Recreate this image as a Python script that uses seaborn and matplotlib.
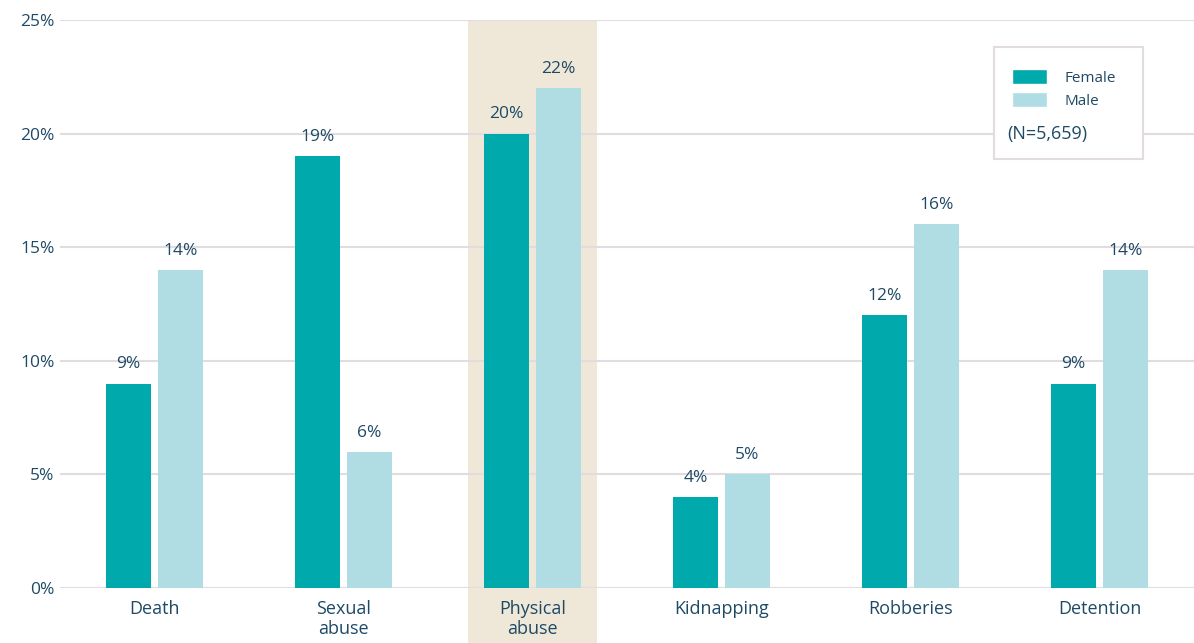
import matplotlib
matplotlib.use("Agg")
import matplotlib.pyplot as plt
import seaborn as sns
import pandas as pd
from matplotlib.patches import Rectangle, Patch

categories = ["Death", "Sexual\nabuse", "Physical\nabuse", "Kidnapping", "Robberies", "Detention"]
female = [9, 19, 20, 4, 12, 9]
male = [14, 6, 22, 5, 16, 14]
series_names = ["Female", "Male"]
yticks = [0, 5, 10, 15, 20, 25]
highlight = "Physical\nabuse"
note = "(N=5,659)"

FEMALE_C = "#00A9AC"
MALE_C = "#B0DDE3"
BAND_C = "#EFE8D8"
TEXT_C = "#1E4A66"
GRID_C = "#E2DCE0"

sns.set_theme(style="white")
plt.rcParams['font.family'] = ['Open Sans', 'DejaVu Sans']

df = pd.DataFrame({
    "cat": categories * 2,
    "val": female + male,
    "sex": [series_names[0]] * len(categories) + [series_names[1]] * len(categories),
})

fig = plt.figure(figsize=(11.94, 6.43), dpi=100)
ax = fig.add_axes([60 / 1194, 55 / 643, 1134 / 1194, 568 / 643])

hi = categories.index(highlight)
ax.add_patch(Rectangle((hi - 0.34, -5), 0.68, 30, facecolor=BAND_C, edgecolor="none",
                       zorder=0, clip_on=False))

sns.barplot(data=df, x="cat", y="val", hue="sex", order=categories,
            hue_order=series_names, palette=[FEMALE_C, MALE_C], width=0.55, gap=0.116,
            ax=ax, legend=False, zorder=3, saturation=1, linewidth=0, edgecolor="none")

for cont in ax.containers:
    for bar in cont:
        h = bar.get_height()
        ax.annotate(f"{h:.0f}%", (bar.get_x() + bar.get_width() / 2, h),
                    xytext=(0, 8), textcoords="offset points", ha="center", va="bottom",
                    fontsize=12.5, color=TEXT_C, zorder=4)

ax.set_xlim(-0.5, 5.5)
ax.set_ylim(0, 25)
ax.set_yticks(yticks)
ax.set_yticklabels([f"{t}%" for t in yticks])
ax.yaxis.grid(True, color=GRID_C, linewidth=1.5, zorder=1)
ax.set_axisbelow(True)
for s in ax.spines.values():
    s.set_visible(False)
ax.tick_params(axis="both", length=0, labelcolor=TEXT_C)
ax.tick_params(axis="y", pad=4, labelsize=12.5)
ax.tick_params(axis="x", pad=9, labelsize=13)
ax.set_xlabel("")
ax.set_ylabel("")
for lab in ax.get_xticklabels():
    lab.set_linespacing(1.08)

# legend box
fig.patches.append(Rectangle((994 / 1194, 1 - 159 / 643), 149 / 1194, 112 / 643,
                             transform=fig.transFigure, facecolor="white",
                             edgecolor=GRID_C, linewidth=1.5, zorder=5))
handles = [Patch(facecolor=FEMALE_C), Patch(facecolor=MALE_C)]
leg = fig.legend(handles, series_names, loc="upper left",
                 bbox_to_anchor=(1004 / 1194, 1 - 61 / 643), frameon=False,
                 fontsize=11, handlelength=2.3, handleheight=1.2, labelspacing=0.4,
                 handletextpad=1.15, borderpad=0)
for t in leg.get_texts():
    t.set_color(TEXT_C)
leg.set_zorder(6)
fig.text(1007 / 1194, 1 - 134 / 643, note, fontsize=13, color=TEXT_C, va="center",
         ha="left", zorder=6)

fig.savefig("out.png", dpi=100)
